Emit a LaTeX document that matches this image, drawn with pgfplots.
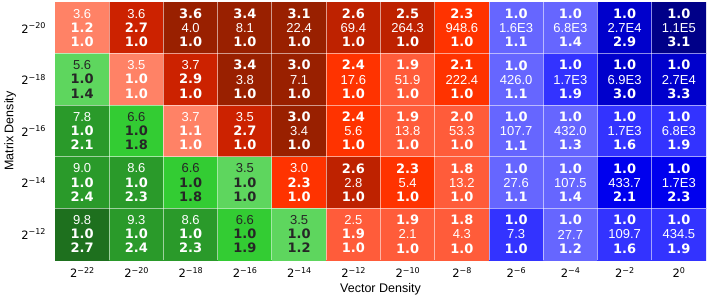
\documentclass[border=0pt]{standalone}
\usepackage{pgfplots}
\pgfplotsset{compat=1.18}
\usepackage{pgfplotstable}
\usepackage{fontspec}
\setmainfont{Liberation Sans}[BoldFont={DejaVu Sans Bold}]
\newfontfamily\dvs{DejaVu Sans}
\definecolor{textdark}{HTML}{262626}
\newcommand{\bb}[1]{\textbf{#1}}
\newcommand{\cW}[3]{\textcolor{white}{#1}\\\textcolor{white}{#2}\\\textcolor{white}{#3}}
\newcommand{\cD}[3]{\textcolor{textdark}{#1}\\\textcolor{textdark}{#2}\\\textcolor{textdark}{#3}}
\newcommand{\pw}[1]{{\dvs\fontsize{11.5}{13}\selectfont 2\raisebox{4.5pt}{\fontsize{8}{9}\selectfont #1}}}

\pgfplotstableread{
x y c
0 0 0
1 0 1
2 0 2
3 0 2
4 0 2
5 0 3
6 0 3
7 0 4
8 0 6
9 0 6
10 0 9
11 0 10
0 1 11
1 1 0
2 1 1
3 1 2
4 1 2
5 1 4
6 1 5
7 1 4
8 1 6
9 1 7
10 1 9
11 1 9
0 2 13
1 2 12
2 2 0
3 2 1
4 2 2
5 2 4
6 2 5
7 2 5
8 2 6
9 2 6
10 2 7
11 2 7
0 3 13
1 3 13
2 3 12
3 3 11
4 3 4
5 3 3
6 3 4
7 3 5
8 3 6
9 3 6
10 3 8
11 3 8
0 4 14
1 4 13
2 4 13
3 4 12
4 4 11
5 4 5
6 4 5
7 4 5
8 4 7
9 4 6
10 4 7
11 4 7
}\cells

\begin{document}
\begin{tikzpicture}
\useasboundingbox (-55pt,-38pt) rectangle (655pt,260pt);
\begin{axis}[
  at={(0,0)}, anchor=south west,
  scale only axis, width=651pt, height=258pt,
  xmin=-0.5, xmax=11.5, ymin=-0.5, ymax=4.5,
  y dir=reverse,
  axis line style={draw=none},
  major tick length=0pt, minor tick length=0pt,
  xtick={0,...,11},
  xticklabels={\pw{−22},\pw{−20},\pw{−18},\pw{−16},\pw{−14},\pw{−12},\pw{−10},\pw{−8},\pw{−6},\pw{−4},\pw{−2},\pw{0}},
  ytick={0,...,4},
  yticklabels={\pw{−20},\pw{−18},\pw{−16},\pw{−14},\pw{−12}},
  xticklabel style={yshift=-4pt},
  yticklabel style={xshift=-6pt},
  minor xtick={0.5,1.5,...,10.5},
  minor ytick={0.5,1.5,2.5,3.5},
  xminorgrids, yminorgrids,
  minor grid style={white, opacity=0.55, line width=1pt},
  axis on top,
  xlabel={Vector Density}, ylabel={Matrix Density},
  xlabel style={yshift=1.5pt},
  ylabel style={yshift=-1.5pt},
  label style={font=\fontsize{12.5}{14}\selectfont},
  colormap={cells}{
    rgb255=(255,130,102) rgb255=(204,34,0) rgb255=(153,32,0) rgb255=(190,34,0)
    rgb255=(255,51,0) rgb255=(255,92,58) rgb255=(102,102,255) rgb255=(51,51,255)
    rgb255=(0,0,238) rgb255=(0,0,204) rgb255=(0,0,136) rgb255=(94,214,94)
    rgb255=(51,204,51) rgb255=(42,154,42) rgb255=(30,112,30)},
  colormap access=direct,
]
\addplot[matrix plot*, mesh/cols=12, point meta=explicit] table[x=x, y=y, meta=c] {\cells};
\addplot[draw=none, mark=none, nodes near coords, point meta=explicit symbolic,
  nodes near coords align=center,
  every node near coord/.append style={anchor=center, align=center, inner sep=0pt,
    font=\fontsize{13}{14.2}\selectfont}]
coordinates {
(0,0) [\cW{3.6}{\bb{1.2}}{\bb{1.0}}]
(1,0) [\cW{3.6}{\bb{2.7}}{\bb{1.0}}]
(2,0) [\cW{\bb{3.6}}{4.0}{\bb{1.0}}]
(3,0) [\cW{\bb{3.4}}{8.1}{\bb{1.0}}]
(4,0) [\cW{\bb{3.1}}{22.4}{\bb{1.0}}]
(5,0) [\cW{\bb{2.6}}{69.4}{\bb{1.0}}]
(6,0) [\cW{\bb{2.5}}{264.3}{\bb{1.0}}]
(7,0) [\cW{\bb{2.3}}{948.6}{\bb{1.0}}]
(8,0) [\cW{\bb{1.0}}{1.6E3}{\bb{1.1}}]
(9,0) [\cW{\bb{1.0}}{6.8E3}{\bb{1.4}}]
(10,0) [\cW{\bb{1.0}}{2.7E4}{\bb{2.9}}]
(11,0) [\cW{\bb{1.0}}{1.1E5}{\bb{3.1}}]
(0,1) [\cD{5.6}{\bb{1.0}}{\bb{1.4}}]
(1,1) [\cW{3.5}{\bb{1.0}}{\bb{1.0}}]
(2,1) [\cW{3.7}{\bb{2.9}}{\bb{1.0}}]
(3,1) [\cW{\bb{3.4}}{3.8}{\bb{1.0}}]
(4,1) [\cW{\bb{3.0}}{7.1}{\bb{1.0}}]
(5,1) [\cW{\bb{2.4}}{17.6}{\bb{1.0}}]
(6,1) [\cW{\bb{1.9}}{51.9}{\bb{1.0}}]
(7,1) [\cW{\bb{2.1}}{222.4}{\bb{1.0}}]
(8,1) [\cW{\bb{1.0}}{426.0}{\bb{1.1}}]
(9,1) [\cW{\bb{1.0}}{1.7E3}{\bb{1.9}}]
(10,1) [\cW{\bb{1.0}}{6.9E3}{\bb{3.0}}]
(11,1) [\cW{\bb{1.0}}{2.7E4}{\bb{3.3}}]
(0,2) [\cW{7.8}{\bb{1.0}}{\bb{2.1}}]
(1,2) [\cD{6.6}{\bb{1.0}}{\bb{1.8}}]
(2,2) [\cW{3.7}{\bb{1.1}}{\bb{1.0}}]
(3,2) [\cW{3.5}{\bb{2.7}}{\bb{1.0}}]
(4,2) [\cW{\bb{3.0}}{3.4}{\bb{1.0}}]
(5,2) [\cW{\bb{2.4}}{5.6}{\bb{1.0}}]
(6,2) [\cW{\bb{1.9}}{13.8}{\bb{1.0}}]
(7,2) [\cW{\bb{2.0}}{53.3}{\bb{1.0}}]
(8,2) [\cW{\bb{1.0}}{107.7}{\bb{1.1}}]
(9,2) [\cW{\bb{1.0}}{432.0}{\bb{1.3}}]
(10,2) [\cW{\bb{1.0}}{1.7E3}{\bb{1.6}}]
(11,2) [\cW{\bb{1.0}}{6.8E3}{\bb{1.9}}]
(0,3) [\cW{9.0}{\bb{1.0}}{\bb{2.4}}]
(1,3) [\cW{8.6}{\bb{1.0}}{\bb{2.3}}]
(2,3) [\cD{6.6}{\bb{1.0}}{\bb{1.8}}]
(3,3) [\cD{3.5}{\bb{1.0}}{\bb{1.0}}]
(4,3) [\cW{3.0}{\bb{2.3}}{\bb{1.0}}]
(5,3) [\cW{\bb{2.6}}{2.8}{\bb{1.0}}]
(6,3) [\cW{\bb{2.3}}{5.4}{\bb{1.0}}]
(7,3) [\cW{\bb{1.8}}{13.2}{\bb{1.0}}]
(8,3) [\cW{\bb{1.0}}{27.6}{\bb{1.1}}]
(9,3) [\cW{\bb{1.0}}{107.5}{\bb{1.4}}]
(10,3) [\cW{\bb{1.0}}{433.7}{\bb{2.1}}]
(11,3) [\cW{\bb{1.0}}{1.7E3}{\bb{2.3}}]
(0,4) [\cW{9.8}{\bb{1.0}}{\bb{2.7}}]
(1,4) [\cW{9.3}{\bb{1.0}}{\bb{2.4}}]
(2,4) [\cW{8.6}{\bb{1.0}}{\bb{2.3}}]
(3,4) [\cD{6.6}{\bb{1.0}}{\bb{1.9}}]
(4,4) [\cD{3.5}{\bb{1.0}}{\bb{1.2}}]
(5,4) [\cW{2.5}{\bb{1.9}}{\bb{1.0}}]
(6,4) [\cW{\bb{1.9}}{2.1}{\bb{1.0}}]
(7,4) [\cW{\bb{1.8}}{4.3}{\bb{1.0}}]
(8,4) [\cW{\bb{1.0}}{7.3}{\bb{1.0}}]
(9,4) [\cW{\bb{1.0}}{27.7}{\bb{1.2}}]
(10,4) [\cW{\bb{1.0}}{109.7}{\bb{1.6}}]
(11,4) [\cW{\bb{1.0}}{434.5}{\bb{1.9}}]
};
\end{axis}
\end{tikzpicture}
\end{document}
